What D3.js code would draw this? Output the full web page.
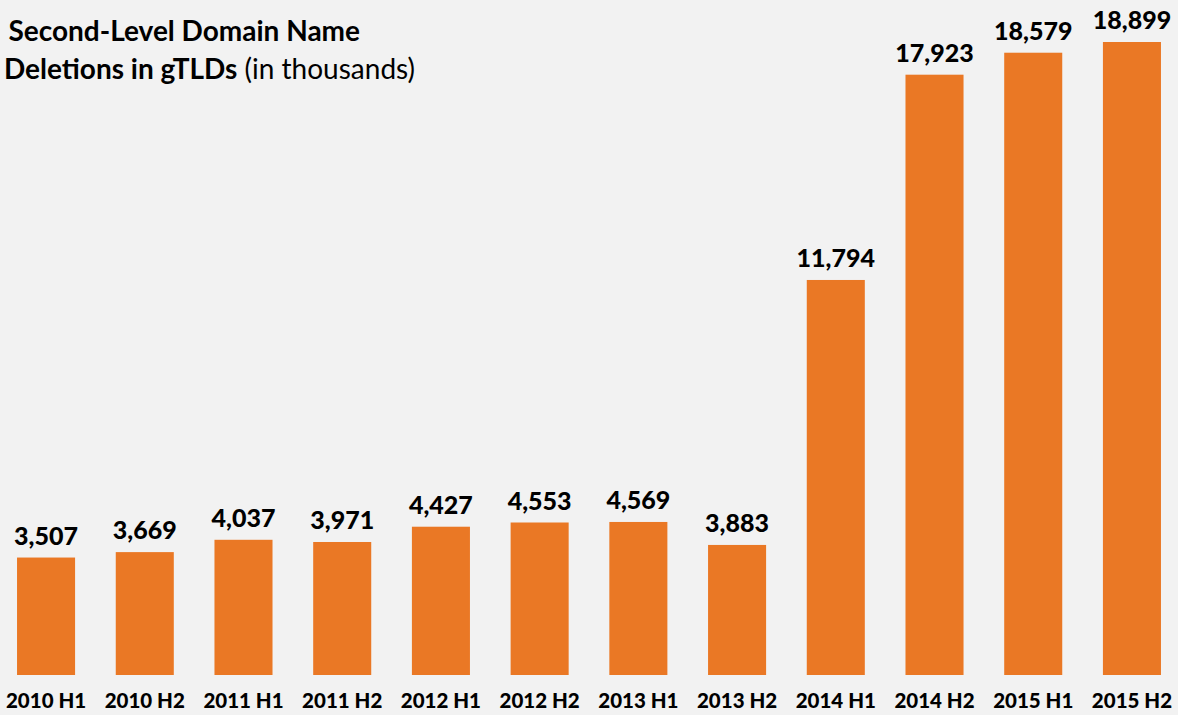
<!DOCTYPE html>
<html>
<head>
<meta charset="utf-8">
<title>Second-Level Domain Name Deletions in gTLDs</title>
<script src="https://d3js.org/d3.v7.min.js"></script>
<style>
  html, body { margin: 0; padding: 0; background: #f2f2f2; overflow: hidden; }
  svg { display: block; font-family: Lato, "Open Sans", sans-serif; }
</style>
</head>
<body>
<script>
// periods on the x axis
var periods = ["2010 H1", "2010 H2", "2011 H1", "2011 H2", "2012 H1", "2012 H2",
               "2013 H1", "2013 H2", "2014 H1", "2014 H2", "2015 H1", "2015 H2"];
// deletions, in thousands
var deletions = [3507, 3669, 4037, 3971, 4427, 4553, 4569, 3883, 11794, 17923, 18579, 18899];

var width = 1178, height = 715;

var svg = d3.select("body").append("svg")
    .attr("width", width)
    .attr("height", height);

svg.append("rect")
    .attr("width", width)
    .attr("height", height)
    .attr("fill", "#f2f2f2");

var x = d3.scaleBand()
    .domain(periods)
    .range([-3.3, 1181.3])
    .paddingInner(0.412)
    .paddingOuter(0.206);

var y = d3.scaleLinear()
    .domain([0, d3.max(deletions)])
    .range([675, 42]);

var fmt = d3.format(",");

var data = periods.map(function(p, i) { return {p: p, v: deletions[i]}; });

svg.selectAll(".bar")
    .data(data)
    .enter().append("rect")
    .attr("class", "bar")
    .attr("x", function(d) { return x(d.p); })
    .attr("width", x.bandwidth())
    .attr("y", function(d) { return y(d.v); })
    .attr("height", function(d) { return y(0) - y(d.v); })
    .attr("fill", "#ea7825");

svg.selectAll(".val")
    .data(data)
    .enter().append("text")
    .attr("class", "val")
    .attr("x", function(d) { return x(d.p) + x.bandwidth() / 2; })
    .attr("y", function(d) { return y(d.v) - 13; })
    .attr("text-anchor", "middle")
    .attr("font-weight", 900)
    .attr("font-size", 25)
    .attr("fill", "#000")
    .text(function(d) { return fmt(d.v); });

// category labels, no axis line
var xAxis = svg.append("g")
    .attr("transform", "translate(0,675)")
    .call(d3.axisBottom(x).tickSize(0).tickPadding(0));
xAxis.select(".domain").remove();
xAxis.selectAll("text")
    .attr("dy", null)
    .attr("y", 33)
    .attr("font-family", "Lato, sans-serif")
    .attr("font-weight", 900)
    .attr("font-size", 20.5)
    .attr("fill", "#000");

// title in the top left corner
var title = svg.append("g").attr("font-size", 28).attr("fill", "#000");
title.append("text")
    .attr("x", 360)
    .attr("y", 41)
    .attr("text-anchor", "end")
    .attr("font-weight", "bold")
    .text("Second-Level Domain Name");
var t2 = title.append("text")
    .attr("x", 4)
    .attr("y", 79);
t2.append("tspan").attr("font-weight", "bold").text("Deletions in gTLDs");
t2.append("tspan").attr("font-weight", "normal").text(" (in thousands)");
</script>
</body>
</html>
